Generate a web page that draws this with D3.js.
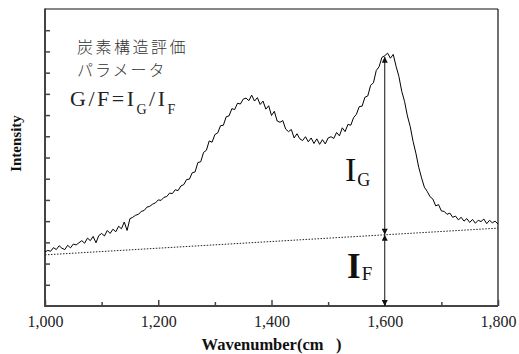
<!DOCTYPE html>
<html>
<head>
<meta charset="utf-8">
<script src="https://cdn.jsdelivr.net/npm/d3@7"></script>
<style>
  body { margin: 0; background: #fff; }
  svg { display: block; }
</style>
</head>
<body>
<svg id="chart" width="519" height="354" font-family="'Liberation Serif', 'Times New Roman', serif"></svg>
<script>
'use strict'

// spectrum (wavenumber step 5, intensity in counts)
const wavenumbers = d3.range(1000, 1801, 5)
const intensity = [
  255, 262, 258, 275, 266, 284, 272, 266, 286, 274,
  292, 288, 298, 308, 296, 320, 308, 328, 298, 332,
  342, 330, 356, 342, 362, 350, 376, 364, 396, 356,
  412, 418, 428, 432, 446, 450, 466, 470, 480, 486,
  500, 498, 512, 516, 532, 530, 548, 544, 566, 572,
  596, 598, 628, 632, 676, 680, 724, 734, 778, 772,
  808, 816, 850, 852, 892, 896, 930, 926, 956, 952,
  975, 980, 968, 994, 966, 982, 950, 966, 928, 944,
  898, 918, 872, 866, 874, 834, 822, 832, 792, 812,
  788, 780, 798, 774, 792, 766, 788, 762, 784, 764,
  792, 798, 790, 818, 802, 840, 822, 856, 852, 888,
  904, 940, 942, 984, 990, 1040, 1052, 1110, 1128, 1172,
  1180, 1192, 1168, 1186, 1130, 1082, 1012, 964, 896, 846,
  776, 720, 654, 604, 560, 540, 515, 504, 472, 478,
  448, 446, 432, 438, 418, 424, 406, 418, 400, 412,
  394, 408, 390, 404, 398, 410, 388, 404, 392, 400,
  386
]

// dotted background line (end points)
const baselineX = [1000, 1800]
const baselineY = [241, 367]

// I_G / I_F arrows
const arrowX = 1600
const arrowTop = 1175

const xMajorTicks = [1000, 1200, 1400, 1600, 1800]
const xMinorTicks = [1100, 1300, 1500, 1700]
const yTicks = d3.range(100, 1400, 100)

const mLeft = 45, mRight = 498, mTop = 9, mBottom = 306
const serif = "'Liberation Serif', 'Times New Roman', serif"
const jp = "'Noto Sans CJK JP', sans-serif"

const svg = d3.select('#chart')

const x = d3.scaleLinear().domain([1000, 1800]).range([mLeft, mRight])
const y = d3.scaleLinear().domain([0, 1400]).range([mBottom, mTop])

// frame
svg.append('line').attr('x1', mLeft).attr('x2', mRight).attr('y1', mTop).attr('y2', mTop)
  .attr('stroke', '#111').attr('stroke-width', 1.2)
svg.append('line').attr('x1', mRight).attr('x2', mRight).attr('y1', mTop).attr('y2', mBottom)
  .attr('stroke', '#111').attr('stroke-width', 1.2)

// axes (ticks pointing inward)
const xAxis = svg.append('g').attr('transform', 'translate(0,' + mBottom + ')')
  .call(d3.axisBottom(x).tickValues(xMajorTicks).tickSize(-6).tickPadding(10).tickFormat(d3.format(',')))
xAxis.attr('font-family', serif).attr('font-size', 16)
xAxis.select('.domain').remove()
xAxis.selectAll('.tick line').attr('stroke', '#444').attr('stroke-width', 1.5)
xAxis.selectAll('text').attr('fill', '#222')

const xMinor = svg.append('g').attr('transform', 'translate(0,' + mBottom + ')')
  .call(d3.axisBottom(x).tickValues(xMinorTicks).tickSize(-4).tickFormat(''))
xMinor.select('.domain').remove()
xMinor.selectAll('.tick line').attr('stroke', '#444').attr('stroke-width', 1.5)

const yAxis = svg.append('g').attr('transform', 'translate(' + mLeft + ',0)')
  .call(d3.axisLeft(y).tickValues(yTicks).tickSize(-5).tickFormat(''))
yAxis.select('.domain').remove()
yAxis.selectAll('.tick line').attr('stroke', '#444').attr('stroke-width', 1.5)

svg.append('line').attr('x1', mLeft).attr('x2', mLeft).attr('y1', mTop - 0.5).attr('y2', mBottom + 1)
  .attr('stroke', '#444').attr('stroke-width', 2)
svg.append('line').attr('x1', mLeft - 1).attr('x2', mRight).attr('y1', mBottom).attr('y2', mBottom)
  .attr('stroke', '#444').attr('stroke-width', 2)

// dotted baseline
svg.append('line')
  .attr('x1', x(baselineX[0])).attr('y1', y(baselineY[0]))
  .attr('x2', x(baselineX[1])).attr('y2', y(baselineY[1]))
  .attr('stroke', '#222').attr('stroke-width', 1).attr('stroke-dasharray', '1.5,1.5')

// spectrum
const line = d3.line().x((d, i) => x(wavenumbers[i])).y(d => y(d))
svg.append('path').datum(intensity)
  .attr('d', line).attr('fill', 'none').attr('stroke', '#000').attr('stroke-width', 1)
  .attr('stroke-linejoin', 'round')

// arrow heads
const defs = svg.append('defs')
defs.append('marker').attr('id', 'head')
  .attr('viewBox', '0 0 10 10').attr('refX', 10).attr('refY', 5)
  .attr('markerUnits', 'userSpaceOnUse').attr('markerWidth', 9).attr('markerHeight', 6)
  .attr('orient', 'auto-start-reverse')
  .append('path').attr('d', 'M0,0 L10,5 L0,10 z').attr('fill', '#111')

const baseAt = baselineY[0] + (baselineY[1] - baselineY[0]) * (arrowX - baselineX[0]) / (baselineX[1] - baselineX[0])

svg.append('line')
  .attr('x1', x(arrowX)).attr('x2', x(arrowX)).attr('y1', y(arrowTop)).attr('y2', y(baseAt))
  .attr('stroke', '#111').attr('stroke-width', 1)
  .attr('marker-start', 'url(#head)').attr('marker-end', 'url(#head)')
svg.append('line')
  .attr('x1', x(arrowX)).attr('x2', x(arrowX)).attr('y1', y(baseAt)).attr('y2', y(0))
  .attr('stroke', '#111').attr('stroke-width', 1)
  .attr('marker-start', 'url(#head)').attr('marker-end', 'url(#head)')

// labels I_G and I_F
const ig = svg.append('text').attr('x', 345).attr('y', 181).attr('fill', '#111').attr('font-family', serif)
ig.append('tspan').attr('font-size', 34).text('I')
ig.append('tspan').attr('font-size', 18).attr('dy', 5).attr('dx', 1).text('G')

const iF = svg.append('text').attr('x', 347).attr('y', 278).attr('fill', '#111').attr('font-family', serif)
iF.append('tspan').attr('font-size', 35).attr('font-weight', 'bold').text('I')
iF.append('tspan').attr('font-size', 19).attr('dy', 2).attr('dx', 1).text('F')

// Japanese annotation
svg.append('text').attr('x', 77).attr('y', 53)
  .attr('font-size', 16).attr('letter-spacing', 2.5).attr('fill', '#333')
  .attr('font-family', jp).attr('font-weight', 300)
  .text('炭素構造評価')
svg.append('text').attr('x', 77).attr('y', 76)
  .attr('font-size', 16).attr('letter-spacing', 2).attr('fill', '#333')
  .attr('font-family', jp).attr('font-weight', 300)
  .text('パラメータ')

const formula = svg.append('text').attr('x', 70).attr('y', 106)
  .attr('font-size', 22).attr('letter-spacing', 2.5).attr('fill', '#222').attr('font-family', serif)
formula.append('tspan').text('G/F=I')
formula.append('tspan').attr('font-size', 14).attr('dy', 8).text('G')
formula.append('tspan').attr('dy', -8).text('/I')
formula.append('tspan').attr('font-size', 14).attr('dy', 8).text('F')

// axis titles
svg.append('text').attr('x', (mLeft + mRight) / 2).attr('y', 350)
  .attr('text-anchor', 'middle').attr('font-size', 16.5).attr('font-weight', 'bold').attr('fill', '#111')
  .attr('font-family', serif).attr('xml:space', 'preserve')
  .text('Wavenumber(cm   )')
svg.append('text').attr('transform', 'translate(21,143.5) rotate(-90)')
  .attr('text-anchor', 'middle').attr('font-size', 15).attr('font-weight', 'bold').attr('fill', '#111')
  .attr('font-family', serif)
  .text('Intensity')
</script>
</body>
</html>
